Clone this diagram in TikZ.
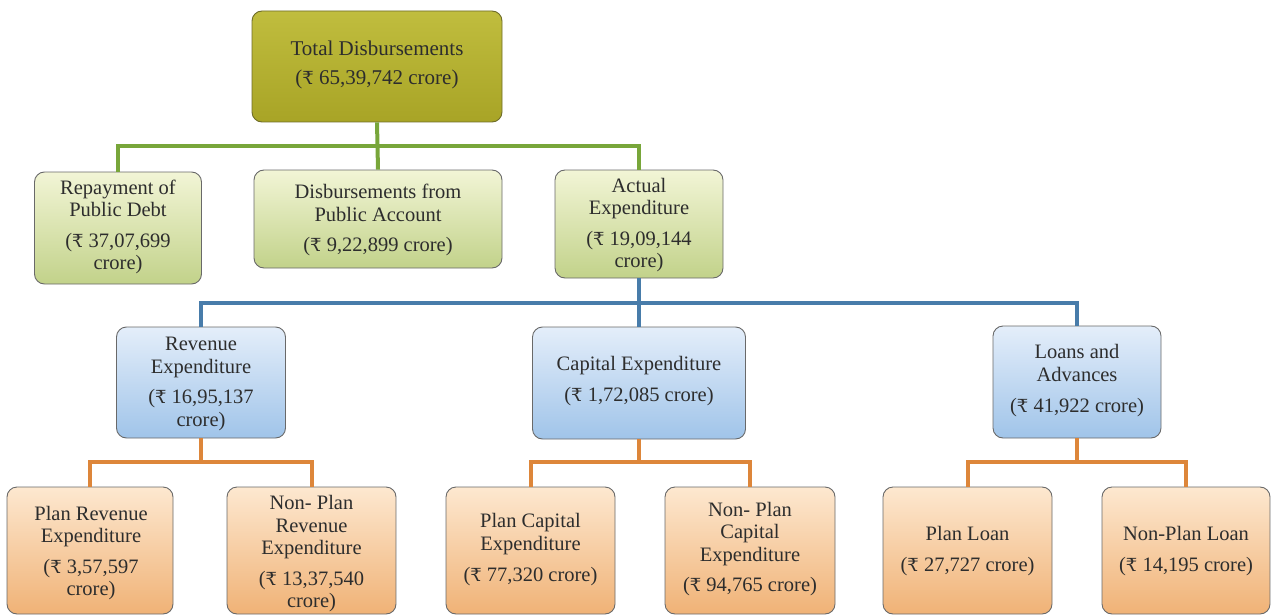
\documentclass[tikz,border=0pt]{standalone}
\usepackage{fontspec}
\setmainfont{Liberation Serif}
\newfontfamily\serifx{Liberation Serif}
\newfontfamily\rsfont{DejaVu Serif}
\usetikzlibrary{calc}
\definecolor{txt}{RGB}{45,45,45}
\definecolor{bord}{RGB}{105,105,105}
\definecolor{olT}{RGB}{192,189,62}
\definecolor{olB}{RGB}{168,164,38}
\definecolor{olD}{RGB}{110,108,40}
\definecolor{grT}{RGB}{242,245,214}
\definecolor{grB}{RGB}{194,210,138}
\definecolor{blT}{RGB}{228,238,250}
\definecolor{blB}{RGB}{160,196,233}
\definecolor{orT}{RGB}{253,232,208}
\definecolor{orB}{RGB}{240,178,118}
\definecolor{gLine}{RGB}{120,166,58}
\definecolor{bLine}{RGB}{72,124,170}
\definecolor{oLine}{RGB}{221,134,58}
\newcommand{\Rs}{{\rsfont\fontsize{18}{22}\selectfont ₹}}
\tikzset{
  boxbase/.style={draw=bord, line width=0.9pt, rounded corners=10pt, inner sep=0pt},
  topbox/.style={boxbase, draw=olD, top color=olT, bottom color=olB},
  grbox/.style={boxbase, top color=grT, bottom color=grB},
  blbox/.style={boxbase, top color=blT, bottom color=blB},
  orbox/.style={boxbase, top color=orT, bottom color=orB},
  lbl/.style={align=center, text=txt, inner sep=0pt, font=\serifx\fontsize{20.5}{22.5}\selectfont},
  gconn/.style={draw=gLine, line width=4pt},
  bconn/.style={draw=bLine, line width=4pt},
  oconn/.style={draw=oLine, line width=4pt}
}
\begin{document}
\begin{tikzpicture}[x=1pt,y=-1pt]
\useasboundingbox (0,0) rectangle (1271,615);
% boxes
\node[topbox, minimum width=250pt, minimum height=111pt] (top) at (377,66.5) {};
\node[grbox, minimum width=167pt, minimum height=112pt] (rep) at (118,228) {};
\node[grbox, minimum width=248pt, minimum height=98pt] (dis) at (378,219) {};
\node[grbox, minimum width=168pt, minimum height=108pt] (act) at (639,224) {};
\node[blbox, minimum width=169pt, minimum height=111pt] (rev) at (201,382.5) {};
\node[blbox, minimum width=213pt, minimum height=112pt] (cap) at (639,383) {};
\node[blbox, minimum width=168pt, minimum height=112pt] (loa) at (1077,382) {};
\node[orbox, minimum width=166pt, minimum height=127pt] (pre) at (90,550.5) {};
\node[orbox, minimum width=169pt, minimum height=127pt] (npr) at (311.5,550.5) {};
\node[orbox, minimum width=169pt, minimum height=127pt] (pca) at (530.5,550.5) {};
\node[orbox, minimum width=170pt, minimum height=127pt] (npc) at (750,550.5) {};
\node[orbox, minimum width=169pt, minimum height=127pt] (plo) at (967.5,550.5) {};
\node[orbox, minimum width=168pt, minimum height=127pt] (nlo) at (1186,550.5) {};
% connectors
\draw[gconn] (top.south) -- (dis.north);
\draw[gconn] (rep.north) -- ++(0,-26) -| (act.north);
\draw[bconn] (act.south) -- (cap.north);
\draw[bconn] (rev.north) -- ++(0,-24) -| (loa.north);
\draw[oconn] (rev.south) -- ++(0,24);
\draw[oconn] (pre.north) -- ++(0,-25) -| (npr.north);
\draw[oconn] (cap.south) -- ++(0,23);
\draw[oconn] (pca.north) -- ++(0,-25) -| (npc.north);
\draw[oconn] (loa.south) -- ++(0,24);
\draw[oconn] (plo.north) -- ++(0,-25) -| (nlo.north);
% labels
\node[lbl, font=\serifx\fontsize{21}{29}\selectfont] (ttop) at (377,65) {Total Disbursements\\(\Rs{} 65,39,742 crore)};
\node[lbl] (trep) at (118,227) {Repayment of\\Public Debt\\[8pt](\Rs{} 37,07,699\\crore)};
\node[lbl] (tdis) at (378,220) {Disbursements from\\Public Account\\[8pt](\Rs{} 9,22,899 crore)};
\node[lbl] (tact) at (639,225) {Actual\\Expenditure\\[8pt](\Rs{} 19,09,144\\crore)};
\node[lbl] (trev) at (201,384) {Revenue\\Expenditure\\[8pt](\Rs{} 16,95,137\\crore)};
\node[lbl] (tcap) at (639,381) {Capital Expenditure\\[8pt](\Rs{} 1,72,085 crore)};
\node[lbl] (tloa) at (1077,381) {Loans and\\Advances\\[9pt](\Rs{} 41,922 crore)};
\node[lbl] (tpre) at (91,553) {Plan Revenue\\Expenditure\\[8pt](\Rs{} 3,57,597\\crore)};
\node[lbl] (tnpr) at (311.5,554) {Non- Plan\\Revenue\\Expenditure\\[8pt](\Rs{} 13,37,540\\crore)};
\node[lbl] (tpca) at (530.5,550) {Plan Capital\\Expenditure\\[9pt](\Rs{} 77,320 crore)};
\node[lbl] (tnpc) at (750,549) {Non- Plan\\Capital\\Expenditure\\[8pt](\Rs{} 94,765 crore)};
\node[lbl] (tplo) at (967.5,551) {Plan Loan\\[8pt](\Rs{} 27,727 crore)};
\node[lbl] (tnlo) at (1186,551) {Non-Plan Loan\\[8pt](\Rs{} 14,195 crore)};
\end{tikzpicture}
\end{document}
